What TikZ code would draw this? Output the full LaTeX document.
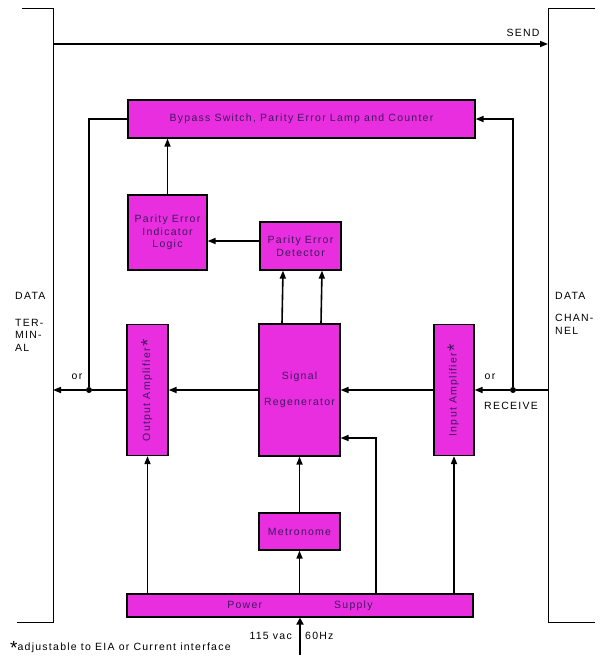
\documentclass[tikz,border=0pt]{standalone}
\usepackage{fontspec}
\setmainfont{Liberation Sans}[LetterSpace=12]
\usepackage{tikz}
\usetikzlibrary{positioning, arrows.meta}
\usepackage{xcolor}
\definecolor{blockmagenta}{RGB}{232,46,222}
\definecolor{blocktext}{RGB}{62,24,96}
\newcommand{\blockcolor}{blockmagenta}
\newcommand{\adjstar}{{\fontsize{19}{19}\selectfont\raisebox{-4pt}{*}}}

\begin{document}
\begin{tikzpicture}[
      % GLOBAL CFG
      x=1pt, y=-1pt,
      font=\fontsize{10.5}{12.5}\selectfont,
      >={Triangle[length=8pt,width=6pt]},
      % Styles
      block/.style={% For the units
        rectangle,
        draw,
        line width=1.2pt,
        fill=\blockcolor,
        text=blocktext,
        align=center,
        inner sep=1pt
      },
      arrowsignal/.style={% Arrows for signals
        line width=1.6pt,
        ->,
      },
      wire/.style={% Plain connections
        line width=1.6pt,
      },
      bracket/.style={% For the terminal and channel sides
        line width=0.9pt,
      },
      dot/.style={
        circle,
        fill,
        inner sep=0pt,
        minimum size=6pt
      },
      label/.style={
        inner sep=0pt,
        align=left
      }
      ]
      \useasboundingbox (0,0) rectangle (604,659);

      % Sides of the picture:
      \draw [bracket] (22,8) -- (53,8) -- (53,622) -- (17,622);
      \draw [bracket] (595,8) -- (548,8) -- (548,622) -- (595,622);
      \node [label, anchor=west] (dtdata) at (15,296) {DATA};
      \node [label, anchor=north west] (dtterm) at (15,319) {TER-\\MIN-\\AL};
      \node [label, anchor=west] (dcdata) at (555,296) {DATA};
      \node [label, anchor=north west] (dcchan) at (555,314) {CHAN-\\NEL};

      % Send line
      \coordinate (sendin) at (53,44);
      \coordinate (sendout) at (548,44);
      \draw [arrowsignal] (sendin) -- (sendout);
      \node [label] (sendlbl) at (523,33) {SEND};

      % Draw the units:
      \node [block, minimum width=347pt, minimum height=38pt] (bypass) at (301.5,119) {Bypass Switch, Parity Error Lamp and Counter};
      \node [block, minimum width=79pt, minimum height=75pt] (pelogic) at (167.5,232.5) {Parity Error\\Indicator\\Logic};
      \node [block, minimum width=81pt, minimum height=48pt] (pedetect) at (300.5,246) {Parity Error\\Detector};
      \node [block, minimum width=131pt, minimum height=41pt, rotate=90] (outamp) at (147.5,390) {Output Amplifier\,\adjstar};
      \node [block, minimum width=81pt, minimum height=132pt] (siggen) at (299.5,390) {Signal\\[14pt]Regenerator};
      \node [block, minimum width=131pt, minimum height=40pt, rotate=90] (inamp) at (454,390) {Input Amplifier\,\adjstar};
      \node [block, minimum width=81pt, minimum height=37pt] (metronome) at (299.5,531.5) {Metronome};
      \node [block, minimum width=346pt, minimum height=23pt] (power) at (300,605.5) {Power\hspace{72pt}Supply};

      % Receive side
      \coordinate (rxin) at (548,390);
      \node [dot] (rxdot) at (513,390) {};
      \draw [wire] (rxin) -- (rxdot);
      \draw [arrowsignal] (rxdot) -- (inamp.south);
      \draw [arrowsignal] (rxdot) |- (bypass.east);
      \node [label] (rxor) at (490,377) {or};
      \node [label] (rxlbl) at (511,406) {RECEIVE};
      \draw [arrowsignal] (inamp.north) -- (siggen.east);

      % Terminal side
      \draw [arrowsignal] (siggen.west) -- (outamp.south);
      \node [dot] (txdot) at (89,390) {};
      \coordinate (txout) at (53,390);
      \draw [wire] (outamp.north) -- (txdot);
      \draw [arrowsignal] (txdot) -- (txout);
      \draw [wire] (bypass.west) -| (txdot);
      \node [label] (txor) at (77,377) {or};

      % Parity check
      \draw [arrowsignal] ([xshift=-17.5pt]siggen.north) -- ([xshift=-17.5pt]pedetect.south);
      \draw [arrowsignal] ([xshift=21.5pt]siggen.north) -- ([xshift=21.5pt]pedetect.south);
      \draw [arrowsignal] ([yshift=5pt]pedetect.west) -- ([yshift=5pt]pedetect.west -| pelogic.east);
      \draw [arrowsignal] (pelogic.north) -- (pelogic.north |- bypass.south);

      % Supply and clock
      \coordinate (clkin) at (376,438);
      \draw [arrowsignal] (metronome.north) -- (siggen.south);
      \draw [arrowsignal] (power.north -| metronome.south) -- (metronome.south);
      \draw [arrowsignal] (power.north -| outamp.west) -- (outamp.west);
      \draw [arrowsignal] (power.north -| inamp.west) -- (inamp.west);
      \draw [arrowsignal] (power.north -| clkin) |- (siggen.east |- clkin);

      % Mains
      \coordinate (mains) at (300,655);
      \draw [line width=2.8pt, -{Triangle[length=7pt,width=7pt]}] (mains) -- (power.south);
      \node [label, anchor=east] (vaclbl) at (292,636) {115 vac};
      \node [label, anchor=west] (hzlbl) at (305,636) {60Hz};

      \node [label, anchor=west] (footnote) at (10,648) {\adjstar{}adjustable to EIA or Current interface};

    \end{tikzpicture}
\end{document}
